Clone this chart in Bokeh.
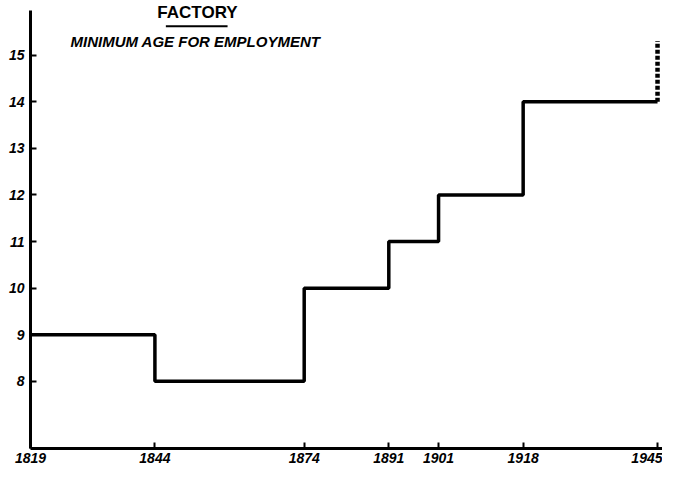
from bokeh.plotting import figure
from bokeh.models import FixedTicker, Label, Range1d
from bokeh.embed import file_html
from bokeh.resources import INLINE

# Data
years = [1819, 1844, 1874, 1891, 1901, 1918, 1945]
min_age = [9, 8, 10, 11, 12, 14, 14]
proposed_year = [1945, 1945]
proposed_age = [14, 15.3]
y_ticks = [8, 9, 10, 11, 12, 13, 14, 15]
title_text = "FACTORY"
subtitle_text = "MINIMUM AGE FOR EMPLOYMENT"

p = figure(width=662, height=468, output_backend="svg", toolbar_location=None,
           x_range=Range1d(1819, 1946), y_range=Range1d(6.56, 16.17),
           min_border_left=30, min_border_right=0, min_border_top=0, min_border_bottom=20)
p.outline_line_color = None
p.xgrid.visible = False
p.ygrid.visible = False
p.background_fill_color = "white"

p.step(years, min_age, mode="after", line_width=3.5, line_color="black")
p.line(proposed_year, proposed_age, line_width=4.5, line_color="black", line_dash="4 2")

for ax in (p.xaxis[0], p.yaxis[0]):
    ax.axis_line_width = 3
    ax.axis_line_color = "black"
    ax.major_tick_in = 6
    ax.major_tick_out = 0
    ax.major_tick_line_width = 2
    ax.minor_tick_line_color = None
    ax.major_label_text_font = "Liberation Sans"
    ax.major_label_text_font_style = "bold italic"
    ax.major_label_text_font_size = "14px"
    ax.major_label_text_color = "black"

p.yaxis.bounds = (6.56, 15.95)
p.xaxis.ticker = FixedTicker(ticks=years)
p.yaxis.ticker = FixedTicker(ticks=y_ticks)
p.xaxis.major_label_standoff = 4
p.yaxis.major_label_standoff = 6

p.add_layout(Label(x=167, y=427, x_units="screen", y_units="screen", text=title_text,
                   text_font="Liberation Sans", text_font_style="bold", text_font_size="17px",
                   text_color="black", text_align="center", text_baseline="bottom"))
p.add_layout(Label(x=165, y=399, x_units="screen", y_units="screen", text=subtitle_text,
                   text_font="Liberation Sans", text_font_style="bold italic", text_font_size="15px",
                   text_color="black", text_align="center", text_baseline="bottom"))
p.segment(x0=[1846.2], y0=[15.62], x1=[1858.6], y1=[15.62], line_width=2, line_color="black")

open("out.html", "w").write(file_html(p, INLINE))
